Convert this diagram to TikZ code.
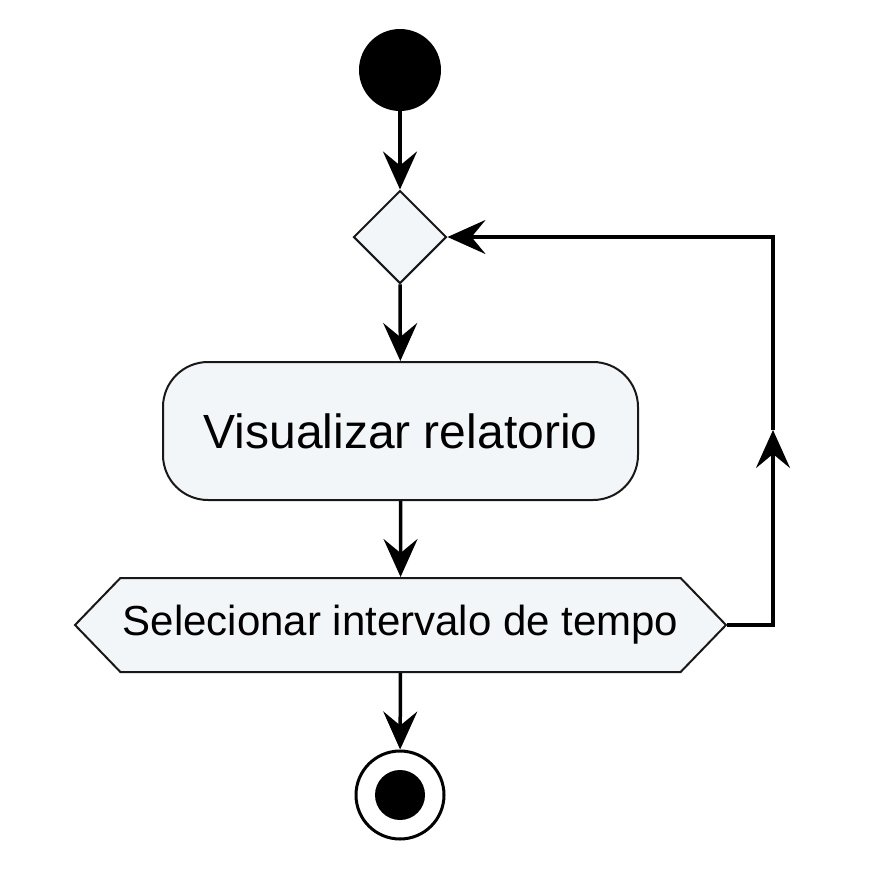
\documentclass[tikz,border=0pt]{standalone}
\usepackage{fontspec}
\setmainfont{Liberation Sans}
\usetikzlibrary{arrows.meta,shapes.geometric,shapes.symbols,calc}

\definecolor{boxfill}{HTML}{F3F6F8}
\definecolor{boxline}{HTML}{181818}

\tikzset{
  flow/.style={line width=3.5pt, black},
  tip/.style={-{Stealth[length=38pt, width=34pt, inset=14pt]}},
  shapeline/.style={draw=boxline, line width=2pt, fill=boxfill}
}

\begin{document}
\begin{tikzpicture}[x=1pt, y=-1pt]
            \useasboundingbox (0,0) rectangle (872,876);
            % Inicio
            \node[circle, fill=black, minimum size=82pt, inner sep=0pt] (start) at (400,70) {};

            % Decisao
            \node[diamond, shapeline, minimum width=93pt, minimum height=93pt, inner sep=0pt] (merge) at (400,237) {};

            % Atividade
            \node[shapeline, rounded corners=45pt, minimum width=475pt, minimum height=138pt,
                  font=\fontsize{48}{56}\selectfont] (act) at (400.5,431) {Visualizar relatorio};

            % Entrada
            \node[signal, signal to=west and east, signal pointer angle=92, shapeline,
                  minimum width=651pt, minimum height=94pt, inner xsep=0pt,
                  font=\fontsize{42}{50}\selectfont] (sel) at (400.5,625) {Selecionar intervalo de tempo};

            % Fim
            \node[circle, draw=black, line width=3pt, fill=white, minimum size=88pt, inner sep=0pt,
                  path picture={\fill[black] (path picture bounding box.center) circle (25pt);}] (end) at (400,795) {};

            % Laco
            \coordinate (loopb) at (773,625);
            \coordinate (loopm) at (773,430);
            \coordinate (loopt) at (773,237);

            % Fluxos
            \draw[flow, tip] (start) -- (merge);
            \draw[flow, tip] (merge) -- (act);
            \draw[flow, tip] (act) -- (sel);
            \draw[flow, tip] (sel) -- (end);
            \draw[flow, tip] (sel.east) -- (loopb) -- (loopm);
            \draw[flow, tip] (loopm) -- (loopt) -- (merge.east);
        \end{tikzpicture}
\end{document}
